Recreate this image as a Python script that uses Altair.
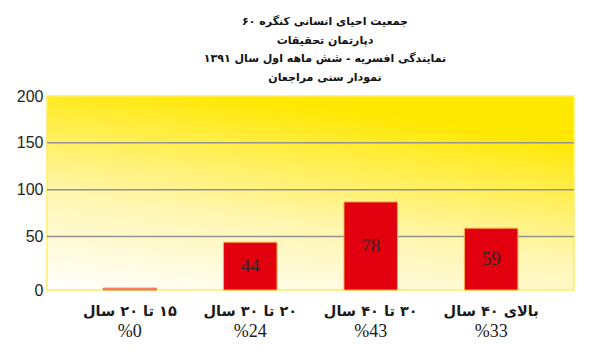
import altair as alt
import pandas as pd

# ---- data ----
categories = ["۱۵ تا ۲۰ سال", "۲۰ تا ۳۰ سال", "۳۰ تا ۴۰ سال", "بالای ۴۰ سال"]
percents = ["%0", "%24", "%43", "%33"]
bar_values = [0, 44, 87, 59]          # bar heights as drawn in the picture
bar_labels = ["", "44", "78", "59"]   # printed data labels
title_lines = [
    "جمعیت احیای انسانی کنگره ۶۰",
    "دپارتمان تحقیقات",
    "نمایندگی افسریه - شش ماهه اول سال ۱۳۹۱",
    "نمودار سنی مراجعان",
]
y_ticks = [50, 100, 150, 200]

W, H = 527, 194
FLOOR = -7  # depth of the chart floor below the zero line (axis offset)
RLM = "\u200f"

df = pd.DataFrame({"cat": categories, "h": bar_values, "lab": bar_labels, "pct": percents})
grid = pd.DataFrame({"v": y_ticks[:-1]})

x_enc = alt.X("cat:N", sort=categories, axis=None,
              scale=alt.Scale(paddingInner=0.556, paddingOuter=0.466))
y_scale = alt.Scale(domain=[FLOOR, 200], nice=False, zero=False)
y_axis = alt.Axis(values=[FLOOR] + y_ticks, labelExpr="datum.value < 0 ? '0' : datum.label",
                  grid=False, ticks=False, domain=False, title=None,
                  labelFont="Liberation Sans", labelFontSize=16, labelColor="#231F20",
                  labelPadding=4)

bg = alt.Chart(pd.DataFrame({"a": [0]})).mark_rect(
    fill=alt.Gradient(
        gradient="linear", x1=0, y1=1, x2=0.35, y2=0,
        stops=[alt.GradientStop(offset=0, color="#FFFFFF"),
               alt.GradientStop(offset=0.45, color="#FFF6B0"),
               alt.GradientStop(offset=1, color="#FFE800")]),
    stroke="#FFEE66", strokeWidth=1.5,
).encode(x=alt.value(0), x2=alt.value(W), y=alt.value(0), y2=alt.value(H))

rules = alt.Chart(grid).mark_rule(color="#929292", strokeWidth=1.5).encode(
    y=alt.Y("v:Q", scale=y_scale, axis=y_axis),
    x=alt.value(0), x2=alt.value(W),
)

bars = alt.Chart(df).transform_calculate(
    top=f"datum.h > 0 ? datum.h : {FLOOR} + 2"
).mark_bar(strokeWidth=1).encode(
    x=x_enc,
    y=alt.Y("top:Q", scale=y_scale, axis=y_axis),
    y2=alt.datum(FLOOR),
    fill=alt.condition("datum.h > 0", alt.value("#E2000F"), alt.value("#F07850")),
    stroke=alt.condition("datum.h > 0", alt.value("#F7B040"), alt.value("#F07850")),
)

bar_text = alt.Chart(df).transform_filter("datum.h > 0").transform_calculate(
    mid=f"(datum.h + {FLOOR}) / 2"
).mark_text(font="Liberation Serif", fontSize=19, color="#2B2B2B", baseline="middle").encode(
    x=x_enc,
    y=alt.Y("mid:Q", scale=y_scale, axis=y_axis),
    text="lab:N",
)

cat_text = alt.Chart(df).transform_calculate(
    catrtl=f"'{RLM}' + datum.cat"
).mark_text(
    font="DejaVu Sans", fontWeight="bold", fontSize=14.5, color="#1A1A1A",
    align="center", baseline="middle",
).encode(x=x_enc, y=alt.value(H + 22), text="catrtl:N")

pct_text = alt.Chart(df).mark_text(
    font="Liberation Serif", fontSize=18, color="#1A1A1A", align="center", baseline="middle",
).encode(x=x_enc, y=alt.value(H + 41.5), text="pct:N")

title_y = [-74, -55.5, -37, -18.5]
title_layers = [
    alt.Chart(pd.DataFrame({"t": [line]})).transform_calculate(
        trtl=f"'{RLM}' + datum.t"
    ).mark_text(
        font="DejaVu Sans", fontWeight="bold", fontSize=11, color="#111111",
        align="center", baseline="middle",
    ).encode(x=alt.value(278), y=alt.value(ty), text="trtl:N")
    for line, ty in zip(title_lines, title_y)
]

chart = alt.layer(bg, rules, bars, bar_text, cat_text, pct_text, *title_layers).properties(
    width=W, height=H,
    autosize=alt.AutoSizeParams(type="none"),
    padding={"left": 47, "top": 96, "right": 26, "bottom": 66},
    background="white",
).configure_view(stroke=None)

chart.save("out.html", embed_options={"renderer": "svg", "actions": False})
